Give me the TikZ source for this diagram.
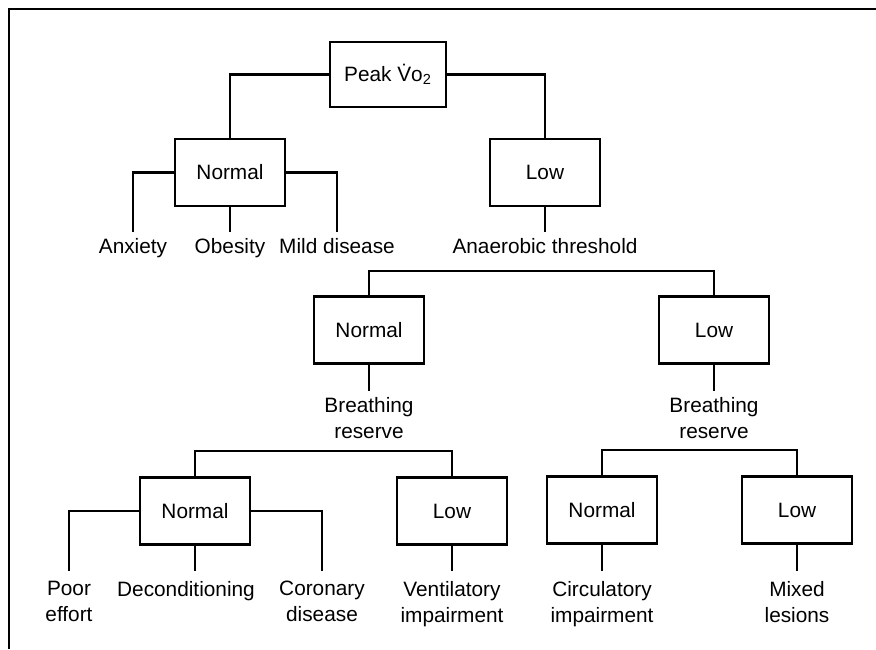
\documentclass[tikz,border=0pt]{standalone}
\usepackage{fontspec}
\setmainfont{Liberation Sans}
\usepackage{tikz}
\usetikzlibrary{calc}
\tikzset{
  block/.style={
    rectangle, draw, line width=1.4pt,
    minimum width=55pt, minimum height=33.5pt,
    align=center, inner sep=0pt, font=\fontsize{10.4}{13}\selectfont
  },
  outcome/.style={
    anchor=north, inner xsep=0pt, inner ysep=3pt,
    align=center, font=\fontsize{10.4}{13}\selectfont
  },
  leaf/.style={outcome, inner ysep=5pt},
  link/.style={line width=1.4pt}
}

\begin{document}
\begin{tikzpicture}[x=0.5pt, y=-0.5pt]
\useasboundingbox (0,0) rectangle (876,649);

% Frame
\draw[link] (9,649) -- (9,9) -- (876,9);

% Root
\node[block, minimum width=58pt, minimum height=32.5pt] (peak) at (388,74.5)
  {Peak \.{V}o\textsubscript{2}};

% Peak VO2 split
\node[block] (n1) at (230,172.5) {Normal};
\node[block] (l1) at (545,172.5) {Low};

\node[outcome] (anx)   at (133,232) {Anxiety};
\node[outcome] (obe)   at (230,232) {Obesity};
\node[outcome] (mild)  at (337,232) {Mild disease};
\node[outcome] (anthr) at (545,232) {Anaerobic threshold};

% Anaerobic threshold split
\coordinate (j1) at (545,271);
\node[block] (n2) at (369,330) {Normal};
\node[block] (l2) at (714,330) {Low};

\node[outcome] (br1) at (369,391) {Breathing\\reserve};
\node[outcome] (br2) at (714,391) {Breathing\\reserve};

% Breathing reserve splits
\coordinate (j2) at (369,451);
\coordinate (j3) at (714,450);
\node[block] (n3) at (195,511) {Normal};
\node[block] (l3) at (452,511) {Low};
\node[block] (n4) at (602,510) {Normal};
\node[block] (l4) at (797,510) {Low};

\node[leaf] (poor) at (69,571)  {Poor\\effort};
\node[leaf] (deco) at (186,571) {Deconditioning};
\node[leaf] (coro) at (322,571) {Coronary\\disease};
\node[leaf] (vent) at (452,571) {Ventilatory\\impairment};
\node[leaf] (circ) at (602,571) {Circulatory\\impairment};
\node[leaf] (mix)  at (797,571) {Mixed\\lesions};

% Connectors
\draw[link] (peak.west) -| (n1.north);
\draw[link] (peak.east) -| (l1.north);
\draw[link] (n1.west) -| (anx.north);
\draw[link] (n1.south) -- (obe.north);
\draw[link] (n1.east) -| (mild.north);
\draw[link] (l1.south) -- (anthr.north);

\draw[link] (n2.north) |- (j1) -| (l2.north);
\draw[link] (n2.south) -- (br1.north);
\draw[link] (l2.south) -- (br2.north);

\draw[link] (n3.north) |- (j2) -| (l3.north);
\draw[link] (n4.north) |- (j3) -| (l4.north);

\draw[link] (n3.west) -| (poor.north);
\draw[link] (n3.south) -- (n3.south |- deco.north);
\draw[link] (n3.east) -| (coro.north);
\draw[link] (l3.south) -- (vent.north);
\draw[link] (n4.south) -- (circ.north);
\draw[link] (l4.south) -- (mix.north);

\end{tikzpicture}
\end{document}
